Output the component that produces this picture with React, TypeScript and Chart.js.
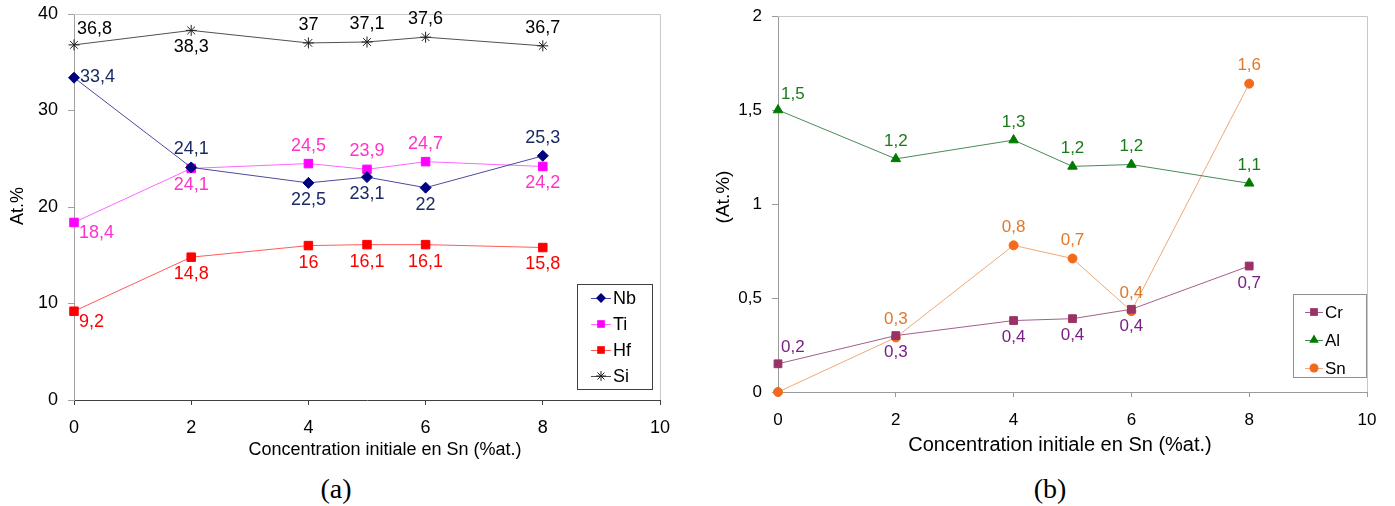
import React, { useEffect, useRef } from 'react';
import { Chart, registerables } from 'chart.js';

Chart.register(...registerables);

// ---------- DATA: chart (a) ----------
const concA = [0, 2, 4, 5, 6, 8];
const nbValues = [33.4, 24.1, 22.5, 23.1, 22.0, 25.3];
const tiValues = [18.4, 24.0, 24.5, 23.9, 24.7, 24.2];
const hfValues = [9.2, 14.8, 16.0, 16.1, 16.1, 15.8];
const siValues = [36.8, 38.3, 37.0, 37.1, 37.6, 36.7];
const nbText = ['33,4', '24,1', '22,5', '23,1', '22', '25,3'];
const tiText = ['18,4', '24,1', '24,5', '23,9', '24,7', '24,2'];
const hfText = ['9,2', '14,8', '16', '16,1', '16,1', '15,8'];
const siText = ['36,8', '38,3', '37', '37,1', '37,6', '36,7'];
const xTickLabelsA = ['0', '2', '4', '6', '8', '10'];
const yTickLabelsA = ['0', '10', '20', '30', '40'];

// ---------- DATA: chart (b) ----------
const concB = [0, 2, 4, 5, 6, 8];
const crValues = [0.15, 0.30, 0.38, 0.39, 0.44, 0.67];
const alValues = [1.50, 1.24, 1.34, 1.20, 1.21, 1.11];
const snValues = [0.0, 0.29, 0.78, 0.71, 0.43, 1.64];
const crText = ['0,2', '0,3', '0,4', '0,4', '0,4', '0,7'];
const alText = ['1,5', '1,2', '1,3', '1,2', '1,2', '1,1'];
const snText = ['', '0,3', '0,8', '0,7', '0,4', '1,6'];
const xTickLabelsB = ['0', '2', '4', '6', '8', '10'];
const yTickLabelsB = ['0', '0,5', '1', '1,5', '2'];

// ---------- label placement (style) ----------
const nbPos = ['r', 'a', 'b', 'b', 'b', 'a'];
const tiPos = ['br', 'b', 'a', 'a', 'a', 'b'];
const hfPos = ['br', 'b', 'b', 'b', 'b', 'b'];
const siPos = ['ar', 'b', 'a', 'a', 'a', 'a'];
const crPos = ['ar', 'b', 'b', 'b', 'b', 'b'];
const alPos = ['ar', 'a', 'a', 'a', 'a', 'a'];
const snPos = ['a', 'a', 'a', 'a', 'a', 'a'];

const FONT = "'Liberation Sans', Arial, sans-serif";

type SeriesDef = {
  label: string;
  xs: number[];
  ys: number[];
  texts: string[];
  pos: string[];
  marker: string;
  line: string;
  textColor: string;
  pointStyle: any;
  radius: number;
};

function drawMarker(ctx: CanvasRenderingContext2D, style: string, r: number, x: number, y: number, color: string) {
  ctx.fillStyle = color;
  ctx.strokeStyle = color;
  ctx.lineWidth = 1;
  ctx.beginPath();
  if (style === 'rect') {
    const s = Math.SQRT1_2 * r;
    ctx.rect(x - s, y - s, 2 * s, 2 * s);
    ctx.fill();
  } else if (style === 'rectRot') {
    ctx.moveTo(x, y - r);
    ctx.lineTo(x + r, y);
    ctx.lineTo(x, y + r);
    ctx.lineTo(x - r, y);
    ctx.closePath();
    ctx.fill();
  } else if (style === 'triangle') {
    ctx.moveTo(x, y - r);
    ctx.lineTo(x + r * 0.866, y + r * 0.5);
    ctx.lineTo(x - r * 0.866, y + r * 0.5);
    ctx.closePath();
    ctx.fill();
  } else if (style === 'circle') {
    ctx.arc(x, y, r, 0, Math.PI * 2);
    ctx.fill();
  } else if (style === 'star') {
    for (let k = 0; k < 4; k++) {
      const a = (k * Math.PI) / 4;
      ctx.moveTo(x - Math.cos(a) * r, y - Math.sin(a) * r);
      ctx.lineTo(x + Math.cos(a) * r, y + Math.sin(a) * r);
    }
    ctx.stroke();
  }
}

function makePlugin(cfg: any) {
  return {
    id: 'custom-' + cfg.id,
    afterDraw(chart: any) {
      const ctx = chart.ctx;
      const area = chart.chartArea;
      ctx.save();
      // top & right frame
      ctx.strokeStyle = cfg.frameColor;
      ctx.lineWidth = 1;
      ctx.beginPath();
      ctx.moveTo(area.left, area.top + 0.5);
      ctx.lineTo(area.right + 0.5, area.top + 0.5);
      ctx.lineTo(area.right + 0.5, area.bottom);
      ctx.stroke();

      // data labels
      ctx.font = `${cfg.labelSize}px ${FONT}`;
      chart.data.datasets.forEach((ds: any, di: number) => {
        const meta = chart.getDatasetMeta(di);
        const s: SeriesDef = cfg.series[di];
        ctx.fillStyle = s.textColor;
        meta.data.forEach((pt: any, i: number) => {
          const t = s.texts[i];
          if (!t) return;
          const p = s.pos[i];
          const off = cfg.labelOffset;
          let x = pt.x, y = pt.y;
          ctx.textBaseline = 'middle';
          if (p === 'a') { ctx.textAlign = 'center'; y -= off + 2; }
          else if (p === 'b') { ctx.textAlign = 'center'; y += off + 1; }
          else if (p === 'r') { ctx.textAlign = 'left'; x += 6; y -= 1; }
          else if (p === 'ar') { ctx.textAlign = 'left'; x += 3; y -= 16; }
          else if (p === 'br') { ctx.textAlign = 'left'; x += 5; y += 11; }
          ctx.fillText(t, x, y);
        });
      });

      // axis titles
      ctx.fillStyle = '#000';
      ctx.font = `${cfg.xTitleSize}px ${FONT}`;
      ctx.textAlign = 'center';
      ctx.textBaseline = 'middle';
      ctx.fillText(cfg.xTitle, cfg.xTitlePos[0], cfg.xTitlePos[1]);
      ctx.font = `${cfg.yTitleSize}px ${FONT}`;
      ctx.save();
      ctx.translate(cfg.yTitlePos[0], cfg.yTitlePos[1]);
      ctx.rotate(-Math.PI / 2);
      ctx.fillText(cfg.yTitle, 0, 0);
      ctx.restore();

      // legend
      const L = cfg.legend;
      ctx.fillStyle = '#fff';
      ctx.fillRect(L.x, L.y, L.w, L.h);
      ctx.strokeStyle = L.border;
      ctx.lineWidth = 1;
      ctx.strokeRect(L.x + 0.5, L.y + 0.5, L.w, L.h);
      ctx.font = `${L.size}px ${FONT}`;
      ctx.textAlign = 'left';
      ctx.textBaseline = 'middle';
      cfg.series.forEach((s: SeriesDef, i: number) => {
        const cy = L.y + L.first + i * L.step;
        ctx.strokeStyle = s.line;
        ctx.lineWidth = 1;
        ctx.beginPath();
        ctx.moveTo(L.x + L.lineX0, cy + 0.5);
        ctx.lineTo(L.x + L.lineX1, cy + 0.5);
        ctx.stroke();
        drawMarker(ctx, s.pointStyle, L.markerScale * s.radius, L.x + (L.lineX0 + L.lineX1) / 2, cy, s.marker);
        ctx.fillStyle = '#000';
        ctx.fillText(s.label, L.x + L.textX, cy + 1);
      });
      ctx.restore();
    },
  };
}

function buildConfig(cfg: any) {
  const datasets = cfg.series.map((s: SeriesDef) => ({
    label: s.label,
    data: s.xs.map((x, i) => ({ x, y: s.ys[i] })),
    borderColor: s.line,
    borderWidth: 1,
    pointStyle: s.pointStyle,
    pointRadius: s.radius,
    pointBackgroundColor: s.marker,
    pointBorderColor: s.marker,
    pointBorderWidth: 1,
    tension: 0,
    fill: false,
    clip: false,
  }));
  return {
    type: 'line',
    data: { datasets },
    options: {
      animation: false,
      responsive: false,
      devicePixelRatio: 1,
      layout: { padding: cfg.padding, autoPadding: false },
      plugins: { legend: { display: false }, tooltip: { enabled: false } },
      scales: {
        x: {
          type: 'linear',
          min: 0,
          max: 10,
          afterBuildTicks: (scale: any) => {
            scale.ticks = cfg.xTicks.map((_: string, i: number) => ({ value: i * 2 }));
          },
          afterFit: (scale: any) => {
            scale.height = cfg.xAxisHeight;
            scale.paddingLeft = 0;
            scale.paddingRight = 0;
          },
          ticks: {
            callback: (_v: any, i: number) => cfg.xTicks[i],
            font: { size: cfg.tickSize, family: FONT },
            color: '#000',
            padding: cfg.xTickPad,
            maxRotation: 0,
          },
          grid: { drawOnChartArea: false, drawTicks: true, tickLength: 5, color: cfg.xAxisColor },
          border: { color: cfg.xAxisColor, width: 1 },
        },
        y: {
          type: 'linear',
          min: 0,
          max: cfg.yMax,
          afterBuildTicks: (scale: any) => {
            scale.ticks = cfg.yTicks.map((_: string, i: number) => ({ value: i * cfg.yStep }));
          },
          afterFit: (scale: any) => {
            scale.width = cfg.yAxisWidth;
            scale.paddingTop = 0;
            scale.paddingBottom = 0;
          },
          ticks: {
            callback: (_v: any, i: number) => cfg.yTicks[i],
            font: { size: cfg.tickSize, family: FONT },
            color: '#000',
            padding: 10,
          },
          grid: { drawOnChartArea: false, drawTicks: true, tickLength: 6, color: cfg.yAxisColor },
          border: { color: cfg.yAxisColor, width: 1 },
        },
      },
    },
    plugins: [makePlugin(cfg)],
  };
}

const seriesA: SeriesDef[] = [
  { label: 'Nb', xs: concA, ys: nbValues, texts: nbText, pos: nbPos, marker: '#000080', line: '#4a4aa0', textColor: '#1b2a66', pointStyle: 'rectRot', radius: 5.5 },
  { label: 'Ti', xs: concA, ys: tiValues, texts: tiText, pos: tiPos, marker: '#ff00ff', line: '#ff66ff', textColor: '#ff33cc', pointStyle: 'rect', radius: 6 },
  { label: 'Hf', xs: concA, ys: hfValues, texts: hfText, pos: hfPos, marker: '#ff0000', line: '#ff5a5a', textColor: '#ff0000', pointStyle: 'rect', radius: 6 },
  { label: 'Si', xs: concA, ys: siValues, texts: siText, pos: siPos, marker: '#202020', line: '#505050', textColor: '#000000', pointStyle: 'star', radius: 5.5 },
];

const seriesB: SeriesDef[] = [
  { label: 'Cr', xs: concB, ys: crValues, texts: crText, pos: crPos, marker: '#993366', line: '#a0608a', textColor: '#7a1f86', pointStyle: 'rect', radius: 5.5 },
  { label: 'Al', xs: concB, ys: alValues, texts: alText, pos: alPos, marker: '#007a00', line: '#4a8a5a', textColor: '#1a7a1a', pointStyle: 'triangle', radius: 5.5 },
  { label: 'Sn', xs: concB, ys: snValues, texts: snText, pos: snPos, marker: '#f26b1d', line: '#f0a878', textColor: '#e0782a', pointStyle: 'circle', radius: 4.5 },
];

const cfgA = {
  id: 'a',
  series: seriesA,
  padding: { left: 0, right: 30, top: 14, bottom: 0 },
  xAxisHeight: 70,
  yAxisWidth: 74,
  yMax: 40,
  yStep: 10,
  xTicks: xTickLabelsA,
  yTicks: yTickLabelsA,
  tickSize: 18,
  xTickPad: 12,
  xAxisColor: '#404040',
  yAxisColor: '#a0a0a0',
  frameColor: '#c8c8c8',
  labelSize: 18,
  labelOffset: 16,
  xTitleSize: 18,
  yTitleSize: 18,
  xTitle: 'Concentration initiale en Sn (%at.)',
  xTitlePos: [385, 450],
  yTitle: 'At.%',
  yTitlePos: [18, 206],
  legend: { x: 577, y: 284, w: 75, h: 105, border: '#404040', size: 18, first: 14, step: 26, lineX0: 14, lineX1: 34, textX: 36, markerScale: 0.9 },
};

const cfgB = {
  id: 'b',
  series: seriesB,
  padding: { left: 0, right: 28, top: 16, bottom: 0 },
  xAxisHeight: 78,
  yAxisWidth: 88,
  yMax: 2,
  yStep: 0.5,
  xTicks: xTickLabelsB,
  yTicks: yTickLabelsB,
  tickSize: 17,
  xTickPad: 13,
  xAxisColor: '#9a9a9a',
  yAxisColor: '#9a9a9a',
  frameColor: '#c8c8c8',
  labelSize: 17,
  labelOffset: 16,
  xTitleSize: 20,
  yTitleSize: 19,
  xTitle: 'Concentration initiale en Sn (%at.)',
  xTitlePos: [370, 445],
  yTitle: '(At.%)',
  yTitlePos: [34, 197],
  legend: { x: 603, y: 294, w: 73, h: 83, border: '#909090', size: 17, first: 18, step: 28, lineX0: 12, lineX1: 30, textX: 32, markerScale: 1 },
};

function ChartCanvas({ cfg, left, width }: { cfg: any; left: number; width: number }) {
  const ref = useRef<HTMLCanvasElement | null>(null);
  useEffect(() => {
    if (!ref.current) return;
    const chart = new Chart(ref.current, buildConfig(cfg) as any);
    return () => chart.destroy();
  }, [cfg]);
  return (
    <canvas
      ref={ref}
      width={width}
      height={470}
      style={{ position: 'absolute', left, top: 0, width, height: 470 }}
    />
  );
}

const captionStyle: React.CSSProperties = {
  position: 'absolute',
  width: 100,
  top: 473,
  textAlign: 'center',
  fontFamily: "'Liberation Serif', 'Times New Roman', serif",
  fontSize: 28,
  lineHeight: '32px',
};

export default function App() {
  return (
    <div style={{ position: 'absolute', left: 0, top: 0, width: 1395, height: 506, background: '#fff', overflow: 'hidden' }}>
      <ChartCanvas cfg={cfgA} left={0} width={690} />
      <ChartCanvas cfg={cfgB} left={690} width={705} />
      <div style={{ ...captionStyle, left: 286 }}>(a)</div>
      <div style={{ ...captionStyle, left: 1000 }}>(b)</div>
    </div>
  );
}
